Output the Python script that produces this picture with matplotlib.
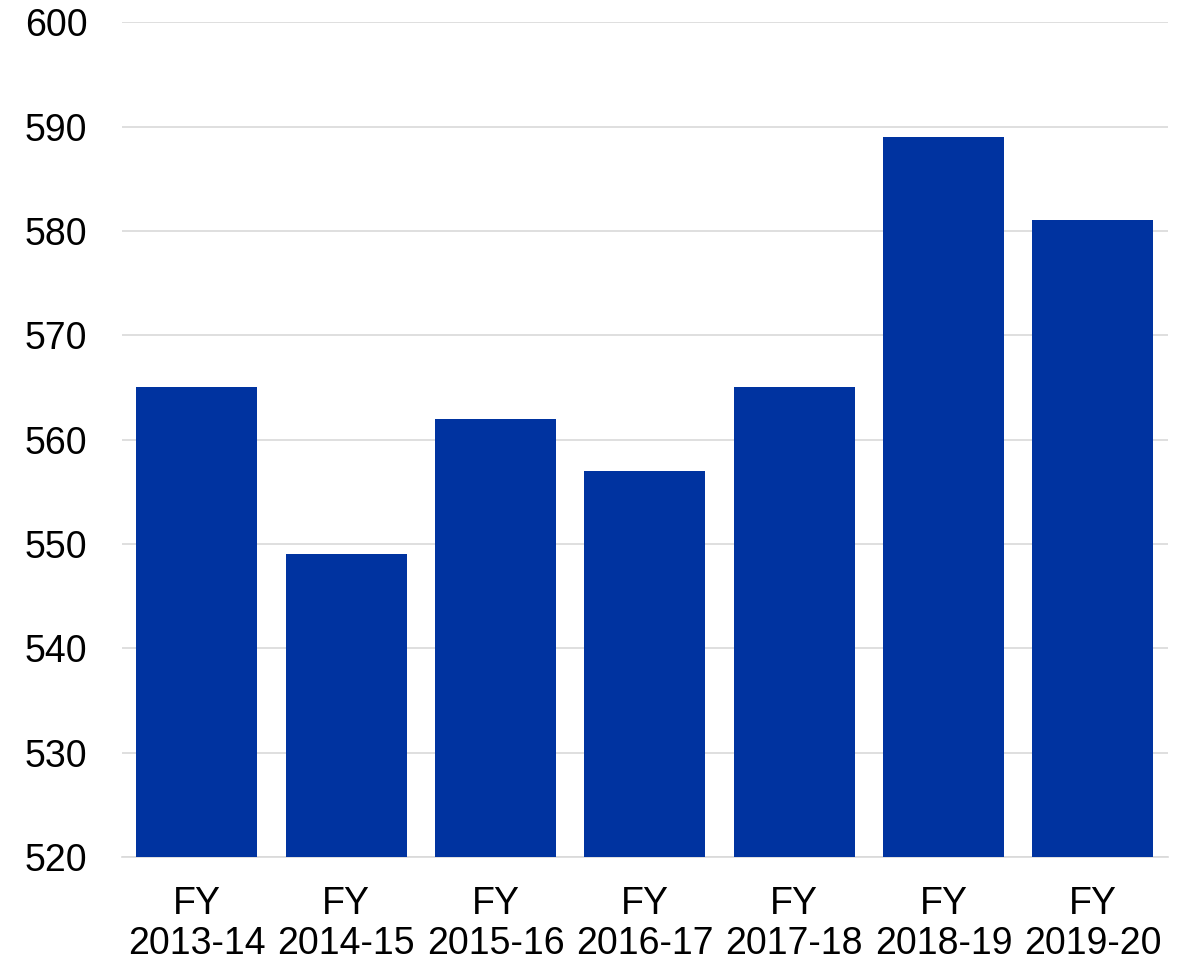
import matplotlib.pyplot as plt

years = ["2013-14", "2014-15", "2015-16", "2016-17", "2017-18", "2018-19", "2019-20"]
labels = ["FY\n" + y for y in years]
values = [565, 549, 562, 557, 565, 589, 581]

plt.rcParams['font.family'] = ['Liberation Sans', 'DejaVu Sans']

fig = plt.figure(figsize=(11.77, 9.64), dpi=100)
ax = fig.add_axes([0.1037, 0.111, 0.8883, 0.866])

x = range(len(values))
ax.bar(x, values, width=0.81, color="#0033A0", zorder=3)

ax.set_ylim(520, 600)
ax.set_xlim(-0.5, len(values) - 0.5)
ax.set_yticks(range(520, 601, 10))
ax.set_xticks(list(x))
ax.set_xticklabels(labels, linespacing=1.15)
ax.tick_params(axis="both", length=0, labelsize=27)
ax.tick_params(axis="y", pad=25)
ax.tick_params(axis="x", pad=21)
ax.yaxis.grid(True, color="#d9d9d9", linewidth=1.2, zorder=0)

for side in ["top", "right", "left"]:
    ax.spines[side].set_visible(False)
ax.spines["bottom"].set_color("#d9d9d9")
ax.spines["bottom"].set_linewidth(1.2)

fig.savefig("out.png", dpi=100)
